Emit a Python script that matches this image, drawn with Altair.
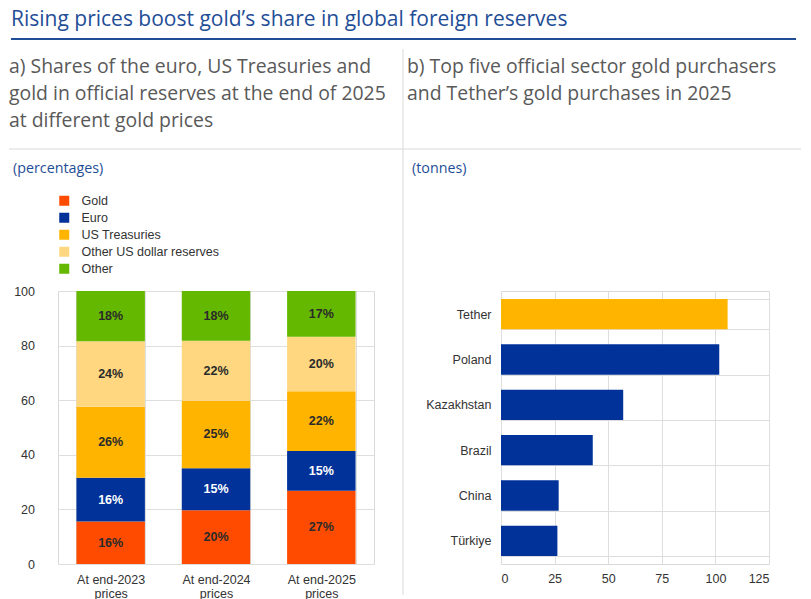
import altair as alt
import pandas as pd

# ---------------- data ----------------
scenarios = ["At end-2023\nprices", "At end-2024\nprices", "At end-2025\nprices"]
series = ["Gold", "Euro", "US Treasuries", "Other US dollar reserves", "Other"]
gold = [15.6, 19.7, 26.8]
euro = [16.0, 15.4, 14.6]
us_treasuries = [26.0, 24.7, 21.9]
other_usd = [24.0, 22.0, 19.9]
other = [18.4, 18.2, 16.8]
series_colors = ["#FF4B00", "#003299", "#FFB400", "#FFD780", "#65B800"]

purchasers = ["Tether", "Poland", "Kazakhstan", "Brazil", "China", "Türkiye"]
purchaser_kind = ["Private", "Official", "Official", "Official", "Official", "Official"]
tonnes = [105.7, 101.8, 57.0, 42.8, 26.9, 26.3]

title_main = "Rising prices boost gold\u2019s share in global foreign reserves"
title_a = ["a) Shares of the euro, US Treasuries and",
           "gold in official reserves at the end of 2025",
           "at different gold prices"]
title_b = ["b) Top five official sector gold purchasers",
           "and Tether\u2019s gold purchases in 2025"]
unit_a = "(percentages)"
unit_b = "(tonnes)"

# ---------------- tables ----------------
rows = []
for i, sc in enumerate(scenarios):
    for j, (name, vals) in enumerate(zip(series, [gold, euro, us_treasuries, other_usd, other])):
        rows.append({"scenario": sc, "series": name, "rank": j, "value": vals[i]})
df_a = pd.DataFrame(rows)
df_b = pd.DataFrame({"name": purchasers, "kind": purchaser_kind, "tonnes": tonnes})

BLUE = "#1F4E97"
GREY_TXT = "#595959"
LINE = "#D9D9D9"
AX_FONT = "Liberation Sans"
AX_COLOR = "#333333"
AX_SIZE = 12.5
one = alt.Data(values=[{}])


def text_item(x, y, text, size, color, lh=None):
    kw = dict(align="left", baseline="alphabetic", fontSize=size, color=color, font="Open Sans")
    if lh is not None:
        kw["lineHeight"] = lh
    return alt.Chart(one).mark_text(**kw).encode(
        x=alt.value(x), y=alt.value(y), text=alt.value(text))


def hline(x1, x2, y, color, w):
    return alt.Chart(one).mark_rule(color=color, strokeWidth=w).encode(
        x=alt.value(x1), x2=alt.value(x2), y=alt.value(y))


def vline(x, y1, y2, color, w):
    return alt.Chart(one).mark_rule(color=color, strokeWidth=w).encode(
        x=alt.value(x), y=alt.value(y1), y2=alt.value(y2))


axis_style = dict(labelFont=AX_FONT, labelFontSize=AX_SIZE, labelColor=AX_COLOR,
                  gridColor="#DEDEDE", ticks=False, domain=False, title=None)

# ---------------- panel a ----------------
x_axis_a = alt.Axis(labelAngle=0, labelExpr="split(datum.label, '\\n')",
                    grid=True, tickBand="extent", labelPadding=9,
                    labelLineHeight=14, **axis_style)
y_axis_a = alt.Axis(values=[0, 20, 40, 60, 80, 100], labelPadding=23.5, grid=True,
                    orient="left", labelAlign="right", offset=0, **axis_style)
x_scale_a = alt.Scale(paddingInner=0.35, paddingOuter=0.175)
y_scale_a = alt.Scale(domain=[0, 100])

base_a = alt.Chart(df_a)
bars_a = base_a.mark_bar().encode(
    x=alt.X("scenario:N", sort=scenarios, scale=x_scale_a, axis=x_axis_a),
    y=alt.Y("value:Q", stack="zero", scale=y_scale_a, axis=y_axis_a),
    color=alt.Color("series:N", sort=series,
                    scale=alt.Scale(domain=series, range=series_colors),
                    legend=alt.Legend(orient="none", legendX=0, legendY=-96.5, title=None,
                                      symbolType="square", symbolSize=100, symbolStrokeWidth=0,
                                      symbolOpacity=1, labelFont=AX_FONT, labelFontSize=12.5,
                                      labelColor=AX_COLOR, labelOffset=11, rowPadding=4,
                                      padding=0)),
    order=alt.Order("rank:Q", sort="ascending"),
)
labels_a = base_a.transform_stack(
    stack="value", groupby=["scenario"], sort=[alt.SortField("rank", "ascending")],
    as_=["v0", "v1"]
).transform_calculate(
    mid="(datum.v0 + datum.v1) / 2",
    label="format(datum.value, '.0f') + '%'"
).mark_text(font=AX_FONT, fontWeight="bold", fontSize=12.5).encode(
    x=alt.X("scenario:N", sort=scenarios, scale=x_scale_a, axis=x_axis_a),
    y=alt.Y("mid:Q", scale=y_scale_a, axis=y_axis_a),
    text="label:N",
    color=alt.condition("datum.series == 'Euro'", alt.value("white"), alt.value("#2B2B2B")),
)

# decorations (pixel positions relative to panel a plot origin)
deco = [
    text_item(-47, -265, title_main, 21, BLUE),
    hline(-47, 738, -252, BLUE, 2),
    text_item(-49, -218.5, title_a, 19.4, GREY_TXT, lh=27),
    text_item(349, -218.5, title_b, 19.4, GREY_TXT, lh=27),
    hline(-49, 743, -142, LINE, 1),
    vline(345, -242, 304, LINE, 1),
    text_item(-45, -118.5, unit_a, 14.3, BLUE),
    text_item(354, -118.5, unit_b, 14.3, BLUE),
]

left = alt.layer(bars_a, labels_a, *deco).properties(width=316, height=273)

# ---------------- panel b ----------------
right = alt.Chart(df_b).mark_bar().encode(
    y=alt.Y("name:N", sort=purchasers,
            scale=alt.Scale(paddingInner=0.33, paddingOuter=0.175),
            axis=alt.Axis(grid=True, tickBand="extent", labelPadding=10, **axis_style)),
    x=alt.X("tonnes:Q", scale=alt.Scale(domain=[0, 125]),
            axis=alt.Axis(values=[0, 25, 50, 75, 100, 125], labelPadding=8, grid=True,
                          **axis_style)),
    color=alt.Color("kind:N", scale=alt.Scale(domain=["Private", "Official"],
                                              range=["#FFB400", "#003299"]), legend=None),
).properties(width=268, height=273)

chart = alt.hconcat(left, right, spacing=127, bounds="flush").properties(
    padding=0, background="white"
).resolve_scale(color="independent").configure_view(
    stroke=LINE, strokeWidth=1
)

chart.save("out.html", embed_options={"renderer": "svg", "actions": False})
